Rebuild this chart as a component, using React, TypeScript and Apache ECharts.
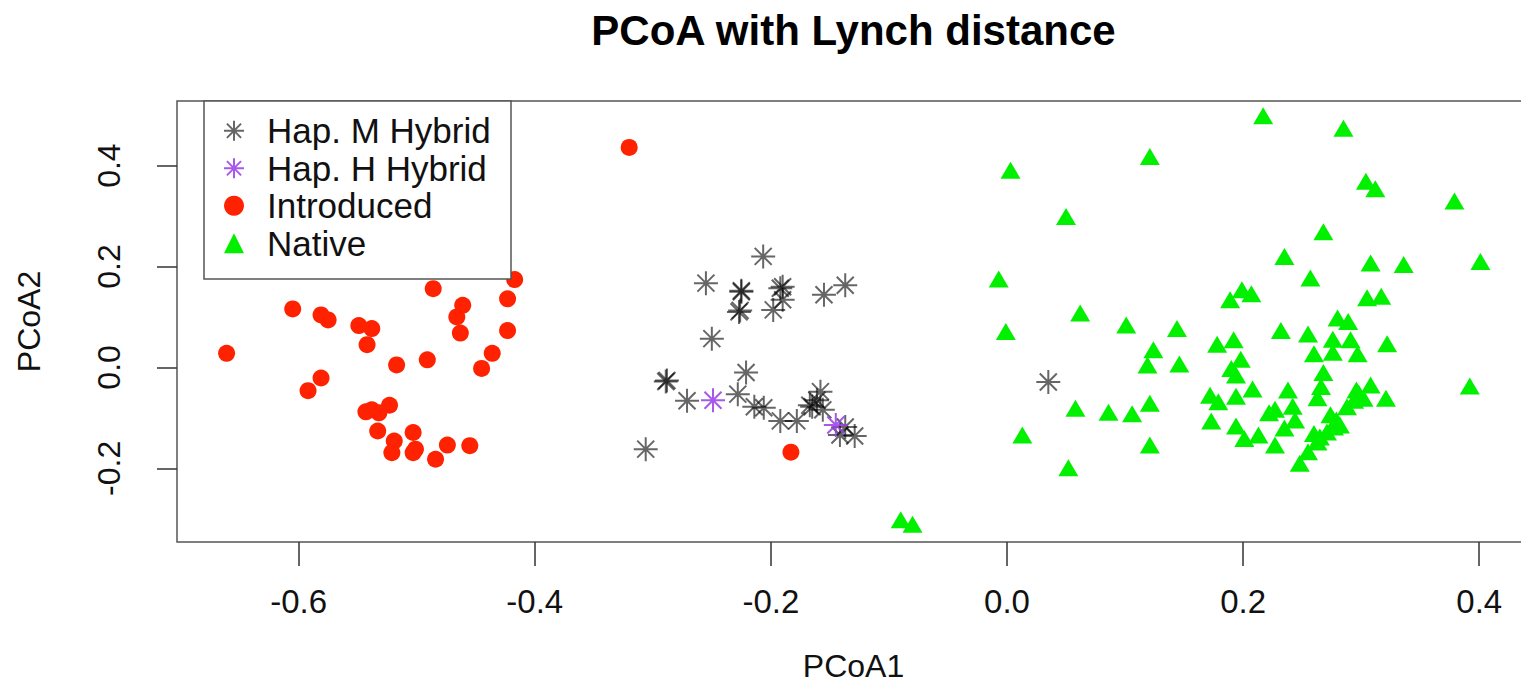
import React, { useEffect, useRef } from "react";
import * as echarts from "echarts";

const titleText = "PCoA with Lynch distance";
const xName = "PCoA1";
const yName = "PCoA2";
const xTicks = [-0.6, -0.4, -0.2, 0.0, 0.2, 0.4];
const yTicks = [-0.2, 0.0, 0.2, 0.4];
const seriesNames = ["Hap. M Hybrid", "Hap. H Hybrid", "Introduced", "Native"];

const hapM: number[][] = [
  [-0.2065, 0.22], [-0.255, 0.167], [-0.225, 0.15], [-0.225, 0.152], [-0.192, 0.157],
  [-0.19, 0.16], [-0.19, 0.134], [-0.198, 0.114], [-0.227, 0.11], [-0.226, 0.113],
  [-0.155, 0.144], [-0.137, 0.163], [-0.25, 0.057], [-0.221, -0.01], [-0.289, -0.028],
  [-0.288, -0.026], [-0.271, -0.066], [-0.228, -0.053], [-0.214, -0.078], [-0.206, -0.08],
  [-0.192, -0.106], [-0.178, -0.106], [-0.167, -0.075], [-0.165, -0.078], [-0.158, -0.048],
  [-0.161, -0.065], [-0.156, -0.084], [-0.137, -0.118], [-0.1415, -0.134], [-0.129, -0.136],
  [-0.306, -0.162], [0.035, -0.029],
];

const hapH: number[][] = [
  [-0.249, -0.065], [-0.145, -0.114],
];

const introduced: number[][] = [
  [-0.661, 0.028], [-0.605, 0.116], [-0.581, 0.104], [-0.575, 0.094], [-0.549, 0.083],
  [-0.538, 0.077], [-0.542, 0.045], [-0.486, 0.156], [-0.517, 0.005], [-0.491, 0.015],
  [-0.461, 0.123], [-0.466, 0.1], [-0.463, 0.068], [-0.417, 0.174], [-0.423, 0.136],
  [-0.423, 0.073], [-0.436, 0.028], [-0.445, -0.002], [-0.581, -0.021], [-0.592, -0.046],
  [-0.543, -0.088], [-0.538, -0.084], [-0.532, -0.09], [-0.523, -0.075], [-0.533, -0.126],
  [-0.519, -0.146], [-0.521, -0.169], [-0.503, -0.129], [-0.501, -0.162], [-0.503, -0.169],
  [-0.484, -0.182], [-0.474, -0.154], [-0.455, -0.155], [-0.32, 0.436], [-0.183, -0.168],
];

const native: number[][] = [
  [0.121, 0.418], [0.003, 0.391], [0.05, 0.299], [-0.007, 0.175], [0.062, 0.108],
  [-0.001, 0.071], [0.101, 0.084], [0.144, 0.077], [0.124, 0.035], [0.119, 0.005],
  [0.146, 0.007], [0.058, -0.081], [0.086, -0.089], [0.106, -0.092], [0.121, -0.071],
  [0.013, -0.134], [0.121, -0.154], [0.052, -0.199], [-0.09, -0.302], [-0.08, -0.311],
  [0.217, 0.499], [0.285, 0.474], [0.304, 0.369], [0.312, 0.354], [0.379, 0.33],
  [0.268, 0.269], [0.235, 0.22], [0.308, 0.207], [0.336, 0.204], [0.401, 0.21],
  [0.257, 0.177], [0.199, 0.154], [0.207, 0.146], [0.189, 0.134], [0.305, 0.138],
  [0.317, 0.141], [0.28, 0.098], [0.289, 0.091],
  [0.232, 0.073], [0.255, 0.066], [0.276, 0.056], [0.291, 0.055], [0.322, 0.047],
  [0.178, 0.046], [0.192, 0.055], [0.26, 0.027], [0.276, 0.03], [0.297, 0.027],
  [0.198, 0.016], [0.19, -0.002], [0.194, -0.015], [0.268, -0.01], [0.266, -0.038],
  [0.263, -0.06], [0.238, -0.045], [0.208, -0.043], [0.172, -0.055], [0.179, -0.068],
  [0.194, -0.057], [0.242, -0.077], [0.222, -0.09], [0.227, -0.083], [0.244, -0.104],
  [0.235, -0.12], [0.173, -0.106], [0.194, -0.116], [0.201, -0.141], [0.213, -0.134],
  [0.227, -0.154], [0.248, -0.19], [0.255, -0.167], [0.26, -0.131], [0.265, -0.138],
  [0.263, -0.148], [0.271, -0.128], [0.277, -0.118], [0.274, -0.094], [0.279, -0.104],
  [0.282, -0.114], [0.288, -0.078], [0.294, -0.065], [0.298, -0.051], [0.302, -0.061],
  [0.296, -0.045], [0.308, -0.035], [0.321, -0.061], [0.392, -0.037],
];

const ASTERISK =
  "path://M12,0 L12,24 M0,12 L24,12 M3.5,3.5 L20.5,20.5 M3.5,20.5 L20.5,3.5";
const FONT = "Liberation Sans, Arial, sans-serif";

export default function App() {
  const ref = useRef<HTMLDivElement>(null);
  useEffect(() => {
    if (!ref.current) return;
    const chart = echarts.init(ref.current, null, { renderer: "svg" });
    const fmt = (v: number) => v.toFixed(1);
    chart.setOption({
      animation: false,
      backgroundColor: "#ffffff",
      textStyle: { fontFamily: FONT },
      grid: {
        left: 177, top: 101, width: 1353, height: 441,
        show: true, borderColor: "#555", borderWidth: 1.5,
        containLabel: false, outerBoundsMode: "none",
      },
      xAxis: {
        type: "value",
        min: -0.703,
        max: 0.443,
        name: xName,
        nameLocation: "middle",
        nameGap: 108,
        nameTextStyle: { fontSize: 32, color: "#111", fontFamily: FONT },
        axisLine: { show: false, onZero: false },
        axisTick: { show: true, length: 24, customValues: xTicks, lineStyle: { color: "#333", width: 1.5 } },
        axisLabel: { customValues: xTicks, formatter: fmt, fontSize: 33, color: "#111", margin: 43, fontFamily: FONT },
        splitLine: { show: false },
      },
      yAxis: {
        type: "value",
        min: -0.346,
        max: 0.528,
        name: yName,
        nameLocation: "middle",
        nameGap: 132,
        nameRotate: 90,
        nameTextStyle: { fontSize: 32, color: "#111", fontFamily: FONT },
        axisLine: { show: false, onZero: false },
        axisTick: { show: true, length: 20, customValues: yTicks, lineStyle: { color: "#333", width: 1.5 } },
        axisLabel: { customValues: yTicks, formatter: fmt, fontSize: 32, color: "#111", margin: 52, rotate: 90, fontFamily: FONT },
        splitLine: { show: false },
      },
      legend: {
        orient: "vertical",
        left: 223,
        top: 112,
        itemWidth: 20,
        itemHeight: 20,
        itemGap: 0,
        padding: 0,
        z: 10,
        data: seriesNames,
        textStyle: { fontSize: 35, lineHeight: 37.5, color: "#111", padding: [0, 0, 0, 18], fontFamily: FONT },
      },
      graphic: [
        {
          type: "rect",
          shape: { x: 204, y: 101, width: 307, height: 178 },
          style: { fill: "#fff", stroke: "#555", lineWidth: 1.5 },
          z: 4,
        },
        {
          type: "text",
          x: 853.5,
          y: 30,
          style: {
            text: titleText,
            textAlign: "center",
            textVerticalAlign: "middle",
            fontSize: 42,
            fontWeight: "bold",
            fontFamily: FONT,
            fill: "#000",
          },
        },
      ],
      series: [
        {
          name: seriesNames[0],
          type: "scatter",
          data: hapM,
          symbol: ASTERISK,
          symbolSize: 24,
          itemStyle: { color: "transparent", borderColor: "rgba(0,0,0,0.6)", borderWidth: 2, opacity: 1 },
          z: 3,
        },
        {
          name: seriesNames[1],
          type: "scatter",
          data: hapH,
          symbol: ASTERISK,
          symbolSize: 24,
          itemStyle: { color: "transparent", borderColor: "rgba(150,60,230,0.85)", borderWidth: 2, opacity: 1 },
          z: 3,
        },
        {
          name: seriesNames[2],
          type: "scatter",
          data: introduced,
          symbol: "circle",
          symbolSize: 17,
          itemStyle: { color: "#ff2200", opacity: 1 },
          z: 2,
        },
        {
          name: seriesNames[3],
          type: "scatter",
          data: native,
          symbol: "triangle",
          symbolSize: [20, 17],
          itemStyle: { color: "#00f000", opacity: 1 },
          z: 2,
        },
      ],
    });
    return () => chart.dispose();
  }, []);
  return (
    <div
      ref={ref}
      style={{ position: "fixed", left: 0, top: 0, width: 1521, height: 688, background: "#fff" }}
    />
  );
}
